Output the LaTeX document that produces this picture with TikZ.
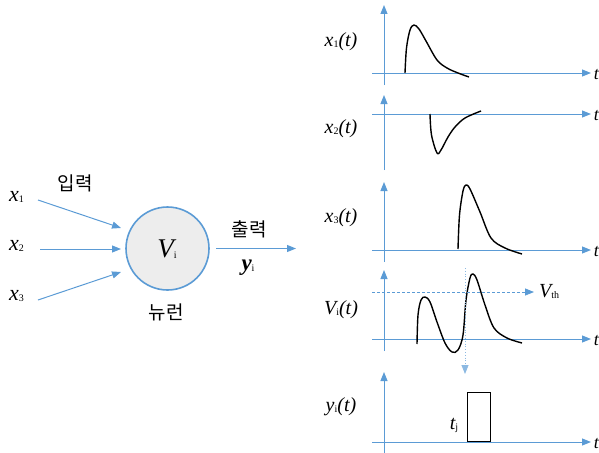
\documentclass[tikz,border=0pt]{standalone}
\usepackage{fontspec}
\setmainfont{Liberation Serif}
\newfontfamily\kor{Noto Sans CJK KR}
\usetikzlibrary{arrows.meta}
\definecolor{axblue}{HTML}{5B9BD5}
\definecolor{cellgray}{HTML}{EDEDED}
\newcommand{\sbs}[1]{{\fontsize{10}{10}\selectfont\raisebox{-1pt}{#1}}}
\tikzset{
  blarrow/.style={draw=axblue, line width=1pt, -{Triangle[length=9pt,width=7pt]}},
  curve/.style={draw=black, line width=1.4pt, line join=round},
  lbl/.style={inner sep=0pt, font=\fontsize{20}{20}\selectfont\itshape},
  kr/.style={inner sep=0pt, font=\kor\fontsize{19}{19}\selectfont},
}
\begin{document}
\begin{tikzpicture}[x=1pt,y=-1pt]
\useasboundingbox (0,0) rectangle (599,452);
% left neuron
\node[draw=axblue, line width=1.6pt, fill=cellgray, circle, minimum size=83pt, inner sep=0pt] (neuron) at (167.5,248.5) {};
\node[inner sep=0pt, font=\fontsize{27}{27}\selectfont\itshape] (vi) at (167,249) {V\sbs{\upshape i}};
\node[lbl, font=\fontsize{22}{22}\selectfont\itshape, anchor=west] (x1) at (9,197) {x\sbs{\upshape 1}};
\node[lbl, font=\fontsize{22}{22}\selectfont\itshape, anchor=west] (x2) at (9,246) {x\sbs{\upshape 2}};
\node[lbl, font=\fontsize{22}{22}\selectfont\itshape, anchor=west] (x3) at (9,296) {x\sbs{\upshape 3}};
\coordinate (x1s) at (38,200); \coordinate (x1e) at (121,228);
\coordinate (x2s) at (40,249); \coordinate (x2e) at (121,249);
\coordinate (x3s) at (38,300); \coordinate (x3e) at (121,272);
\draw[blarrow] (x1s) -- (x1e);
\draw[blarrow] (x2s) -- (x2e);
\draw[blarrow] (x3s) -- (x3e);
\node[kr] (in) at (75,183) {입력};
\node[kr] (out) at (249,229) {출력};
\node[kr] (nr) at (166,312) {뉴런};
\coordinate (os) at (216,248.5); \coordinate (oe) at (296,248.5);
\draw[blarrow] (os) -- (oe);
\node[inner sep=0pt, font=\fontsize{23}{23}\selectfont\bfseries\itshape] (yi) at (248,268) {y\sbs{\upshape\mdseries i}};
% right panels
\foreach \n/\ytop/\ybot/\yax in {a/5/85/73, b/95/170/114, c/182/262/250, d/270/351/339, e/372/455/442}{
  \coordinate (\n top) at (384,\ytop);
  \coordinate (\n bot) at (384,\ybot);
  \coordinate (\n l) at (372,\yax);
  \coordinate (\n r) at (591,\yax);
  \draw[blarrow] (\n bot) -- (\n top);
  \draw[blarrow] (\n l) -- (\n r);
  \node[inner sep=0pt, font=\fontsize{18}{18}\selectfont\itshape, anchor=east] (\n t) at (599,\yax+2) {t};
}
\node[lbl] (lx1) at (341,42) {x\sbs{\upshape 1}(t)};
\node[lbl] (lx2) at (341,129) {x\sbs{\upshape 2}(t)};
\node[lbl] (lx3) at (341,218) {x\sbs{\upshape 3}(t)};
\node[lbl] (lvi) at (341,310) {V\sbs{\upshape i}(t)};
\node[lbl] (lyi) at (341,407) {y\sbs{\upshape i}(t)};
% curves
\draw[curve] plot[smooth, tension=0.55] coordinates {(405,73) (406.5,48) (410,30) (414,25) (419,29) (426,41) (437,60) (447,68) (458,73) (469,77)};
\draw[curve] plot[smooth, tension=0.55] coordinates {(430,114) (431.5,135) (437,153) (441,150) (448,137) (455,127) (465,118) (481,111)};
\draw[curve] plot[smooth, tension=0.55] coordinates {(458,249) (459.5,215) (463,191) (466,185) (470,189) (480,212) (491,238) (505,248) (522,254)};
\draw[curve] plot[smooth, tension=0.55] coordinates {(417,344) (418,315) (421,300) (425,297) (430,302) (437,322) (445,343) (452,352) (458,350) (463,335) (466,300) (470,278) (473,274) (477,280) (485,305) (494,328) (507,338) (522,343)};
% threshold
\coordinate (ths) at (372,292); \coordinate (the) at (534,292);
\draw[draw=axblue, line width=0.8pt, dashed, dash pattern=on 3pt off 2pt, -{Triangle[length=9pt,width=7pt]}] (ths) -- (the);
\node[inner sep=0pt, font=\fontsize{20}{20}\selectfont\itshape, anchor=west] (vth) at (539,291) {V\sbs{\upshape th}};
\coordinate (vds) at (465,268); \coordinate (vde) at (465,374);
\draw[draw=axblue!70, line width=0.8pt, dotted, -{Triangle[length=9pt,width=7pt]}] (vds) -- (vde);
% spike
\node[draw=black, line width=1.4pt, minimum width=23pt, minimum height=49pt, inner sep=0pt, anchor=south west] (spike) at (467,442) {};
\node[lbl] (tj) at (454,425) {t\sbs{\upshape j}};
\end{tikzpicture}
\end{document}
